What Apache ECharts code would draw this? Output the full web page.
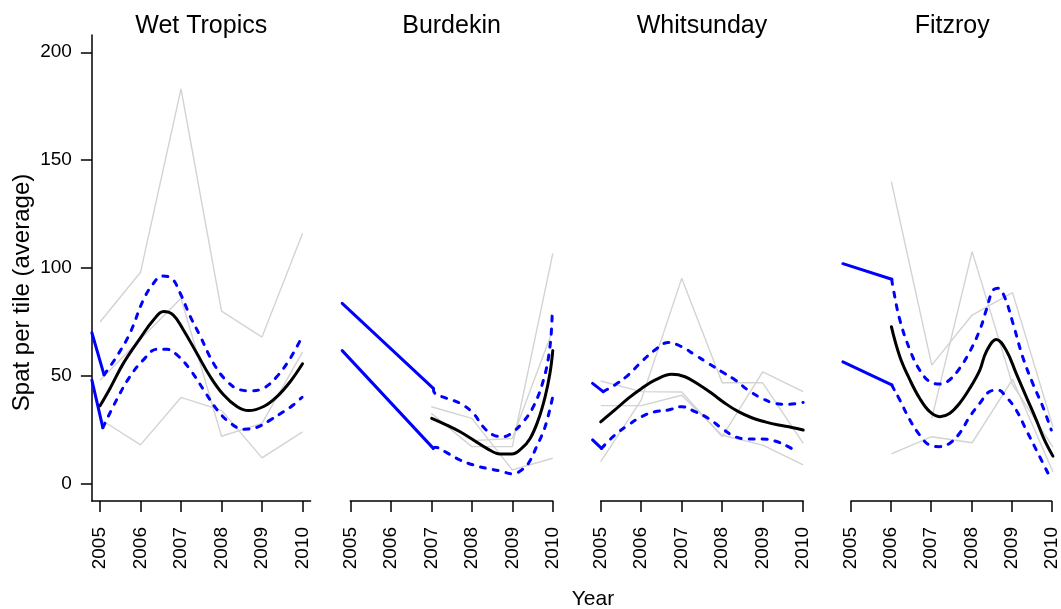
<!DOCTYPE html>
<html>
<head>
<meta charset="utf-8">
<script src="https://cdn.jsdelivr.net/npm/echarts@6/dist/echarts.min.js"></script>
<style>
html,body{margin:0;padding:0;background:#fff;}
#chart{width:1061px;height:609px;}
</style>
</head>
<body>
<div id="chart"></div>
<script>
// ---------- DATA ----------
const regions = ['Wet Tropics', 'Burdekin', 'Whitsunday', 'Fitzroy'];
const years = [2005, 2006, 2007, 2008, 2009, 2010];
const yearLabels = ['2005', '2006', '2007', '2008', '2009', '2010'];
const yTicks = [0, 50, 100, 150, 200];

// raw site lines (grey), one value per year
const wetGrey = [
  [75, 98, 183, 80, 68, 116],
  [48, 67, 86, 22, 28, 61],
  [30, 18, 40, 34, 12, 24]
];
const burGrey = [
  [null, null, 35.7, 30.3, 6.4, 11.8],
  [null, null, 32.6, 17.2, 17.2, 106.8],
  [null, null, null, 20, 21, 71.3]
];
const whiGrey = [
  [10.2, 38.8, 95.2, 46.8, 46.8, 18.7],
  [47.6, 42.7, 42.5, 21.8, 51.9, 42.7],
  [36.2, 36.2, 41, 22.5, 17.9, 8.7]
];
const fitGrey = [
  [null, 140, 55, 78.2, 88.6, 26.4],
  [null, null, 30.3, 107.6, 46, 17],
  [null, 13.8, 21.8, 19, 48.4, 5.6]
];

// smoothed mean (black), [year, value]
const wetMean = [[2005.0,36.1],[2005.25,44.3],[2005.58,55.9],[2005.99,67.4],[2006.32,75.9],[2006.57,79.8],[2006.81,78.2],[2007.06,71.3],[2007.39,60.5],[2007.72,49.7],[2008.05,41.2],[2008.38,35.8],[2008.67,33.9],[2009.04,35.8],[2009.37,40.4],[2009.70,47.4],[2010.0,55.6]];
const burMean = [[2007.01,30.3],[2007.38,27.2],[2007.71,24.1],[2008.04,20.3],[2008.37,16.4],[2008.70,13.8],[2008.99,13.8],[2009.23,16.4],[2009.44,21.0],[2009.64,29.5],[2009.81,40.3],[2009.93,51.2],[2010.0,61.7]];
const whiMean = [[2005.0,28.7],[2005.35,34.2],[2005.68,39.6],[2006.01,44.2],[2006.35,48.1],[2006.75,50.7],[2007.08,49.6],[2007.41,46.1],[2007.74,41.9],[2008.07,37.3],[2008.40,33.4],[2008.73,30.6],[2009.06,28.7],[2009.39,27.2],[2009.72,26.1],[2010.0,24.9]];
const fitMean = [[2006.0,72.8],[2006.21,58.9],[2006.46,48.1],[2006.70,39.6],[2006.95,33.4],[2007.20,31.1],[2007.44,32.6],[2007.69,37.3],[2007.94,44.2],[2008.19,52.7],[2008.35,61.2],[2008.60,66.9],[2008.84,62.0],[2009.09,51.2],[2009.34,40.3],[2009.59,29.5],[2009.79,20.3],[2010.0,12.8]];

// confidence band (blue dashed), [year, value]
const wetUpper = [[2005.10,50.5],[2005.41,58.9],[2005.74,69.8],[2006.07,85.2],[2006.32,92.9],[2006.53,96.3],[2006.77,95.2],[2006.98,88.3],[2007.23,77.5],[2007.48,68.2],[2007.80,55.9],[2008.14,47.4],[2008.47,43.5],[2008.71,43.1],[2009.04,44.3],[2009.37,49.7],[2009.70,58.2],[2009.95,66.7]];
const wetLower = [[2005.07,26.0],[2005.41,38.9],[2005.74,49.7],[2006.07,57.4],[2006.40,62.3],[2006.65,62.3],[2006.90,59.7],[2007.23,52.8],[2007.56,43.5],[2007.89,34.3],[2008.22,28.1],[2008.55,25.3],[2008.88,26.2],[2009.21,29.6],[2009.54,33.5],[2009.78,36.6],[2009.99,40.1]];
const burUpper = [[2007.05,44.2],[2007.09,41.9],[2007.38,39.6],[2007.71,37.3],[2008.04,32.6],[2008.28,26.4],[2008.53,22.6],[2008.78,21.8],[2009.02,24.1],[2009.27,28.7],[2009.52,35.7],[2009.77,48.1],[2009.93,63.5],[2009.99,81.3]];
const burLower = [[2007.05,16.4],[2007.09,16.9],[2007.38,14.4],[2007.71,11.0],[2008.04,8.7],[2008.37,7.1],[2008.69,6.0],[2009.02,4.5],[2009.23,6.4],[2009.40,9.5],[2009.60,17.2],[2009.81,26.4],[2009.99,39.6]];
const whiUpper = [[2005.06,42.7],[2005.35,45.8],[2005.68,50.4],[2006.01,56.6],[2006.34,62.0],[2006.67,65.5],[2007.00,63.5],[2007.33,59.7],[2007.66,55.8],[2007.99,51.9],[2008.32,48.1],[2008.64,43.4],[2008.98,39.6],[2009.30,37.3],[2009.63,36.8],[2010.0,37.7]];
const whiLower = [[2005.02,16.4],[2005.35,22.6],[2005.68,27.2],[2006.01,31.1],[2006.34,33.4],[2006.67,34.2],[2007.00,35.7],[2007.33,33.4],[2007.66,30.3],[2007.99,25.7],[2008.32,21.8],[2008.64,20.7],[2008.98,20.7],[2009.30,19.8],[2009.63,17.2],[2009.84,14.8]];
const fitUpper = [[2006.01,94.8],[2006.03,92.1],[2006.21,75.9],[2006.46,62.0],[2006.70,52.7],[2006.95,47.3],[2007.20,46.2],[2007.44,48.1],[2007.69,53.5],[2007.94,61.2],[2008.19,71.3],[2008.35,80.5],[2008.51,89.5],[2008.64,90.6],[2008.80,86.7],[2009.01,74.4],[2009.25,58.9],[2009.50,46.5],[2009.75,35.7],[2009.96,24.9]];
const fitLower = [[2006.01,45.8],[2006.03,45.0],[2006.21,38.8],[2006.46,29.5],[2006.70,22.6],[2006.95,17.9],[2007.20,17.2],[2007.44,18.7],[2007.69,23.4],[2007.94,31.1],[2008.19,37.3],[2008.43,42.7],[2008.64,43.4],[2008.84,40.3],[2009.09,34.2],[2009.34,24.9],[2009.59,15.6],[2009.88,4.8]];

// extrapolated band (blue solid), [year, value]
const wetUpperExt = [[2004.8,70.0],[2005.10,50.5]];
const wetLowerExt = [[2004.8,48.0],[2005.07,26.0]];
const burUpperExt = [[2004.8,83.6],[2007.05,44.2]];
const burLowerExt = [[2004.8,61.7],[2007.05,16.4]];
const whiUpperExt = [[2004.8,46.5],[2005.06,42.7]];
const whiLowerExt = [[2004.8,20.3],[2005.02,16.4]];
const fitUpperExt = [[2004.8,102.0],[2006.01,94.8]];
const fitLowerExt = [[2004.8,56.5],[2006.01,45.8]];

// ---------- BUILD ----------
const panels = [
  {grey: wetGrey, mean: wetMean, upper: wetUpper, lower: wetLower, upperExt: wetUpperExt, lowerExt: wetLowerExt},
  {grey: burGrey, mean: burMean, upper: burUpper, lower: burLower, upperExt: burUpperExt, lowerExt: burLowerExt},
  {grey: whiGrey, mean: whiMean, upper: whiUpper, lower: whiLower, upperExt: whiUpperExt, lowerExt: whiLowerExt},
  {grey: fitGrey, mean: fitMean, upper: fitUpper, lower: fitLower, upperExt: fitUpperExt, lowerExt: fitLowerExt}
];

const FONT = "'Liberation Sans', Arial, Helvetica, sans-serif";
const X2005 = [100, 350.3, 600.7, 851];
const PPY = 40.5;          // pixels per year
const TOP = 35, H = 466;   // plot region
const XMIN = 2004.8, XMAX = 2010.2, YMIN = -8, YMAX = 208;

const grids = [], xAxes = [], yAxes = [], series = [], graphics = [];

panels.forEach((p, i) => {
  grids.push({left: X2005[i] - 0.2 * PPY, top: TOP, width: 5.4 * PPY, height: H});
});
panels.forEach((p, i) => {
  grids.push({left: X2005[i], top: TOP, width: 5 * PPY, height: H});
});
const y0px = TOP + H * (YMAX - 0) / (YMAX - YMIN);
const y200px = TOP + H * (YMAX - 200) / (YMAX - YMIN);
grids.push({left: X2005[0] - 0.2 * PPY, top: y200px, width: 5.4 * PPY, height: y0px - y200px});

const blackLine = {color: '#000', width: 1.5};

panels.forEach((p, i) => {
  xAxes.push({
    gridIndex: i, type: 'value', min: XMIN, max: XMAX, position: 'bottom',
    show: i === 0,
    axisLine: {show: true, onZero: false, lineStyle: blackLine},
    axisTick: {show: false}, axisLabel: {show: false}, splitLine: {show: false}
  });
  yAxes.push({
    gridIndex: i, type: 'value', min: YMIN, max: YMAX, position: 'left',
    show: i === 0,
    axisLine: {show: true, onZero: false, lineStyle: blackLine},
    axisTick: {show: false}, axisLabel: {show: false}, splitLine: {show: false}
  });
});
panels.forEach((p, i) => {
  xAxes.push({
    gridIndex: 4 + i, type: 'value', min: 2005, max: 2010, interval: 1,
    position: 'bottom',
    axisLine: {show: i > 0, onZero: false, lineStyle: blackLine},
    axisTick: {show: true, length: 11, inside: false, lineStyle: blackLine},
    axisLabel: {
      show: true, rotate: 90, margin: 26, fontSize: 19, color: '#000', fontFamily: FONT,
      showMinLabel: true, showMaxLabel: true,
      padding: [9, 0, 0, 0],
      formatter: v => yearLabels[Math.round(v - years[0])]
    },
    splitLine: {show: false}
  });
  yAxes.push({
    gridIndex: 4 + i, type: 'value', min: YMIN, max: YMAX, show: false,
    axisLine: {onZero: false},
    splitLine: {show: false}
  });
});
xAxes.push({gridIndex: 8, type: 'value', min: XMIN, max: XMAX, show: false, axisLine: {onZero: false}, splitLine: {show: false}});
yAxes.push({
  gridIndex: 8, type: 'value', min: yTicks[0], max: yTicks[yTicks.length - 1],
  interval: yTicks[1] - yTicks[0], position: 'left',
  axisLine: {show: false, onZero: false},
  axisTick: {show: true, length: 11, inside: false, lineStyle: blackLine},
  axisLabel: {show: true, margin: 20, fontSize: 19, color: '#000', fontFamily: FONT,
    padding: [5, 0, 0, 0], showMinLabel: true, showMaxLabel: true},
  splitLine: {show: false}
});

const lineBase = {type: 'line', showSymbol: false, symbol: 'none', silent: true, animation: false};

panels.forEach((p, i) => {
  p.grey.forEach((vals, k) => {
    const d = [];
    years.forEach((yr, j) => { if (vals[j] !== null) d.push([yr, vals[j]]); });
    series.push(Object.assign({}, lineBase, {
      name: regions[i] + ' site ' + (k + 1), xAxisIndex: i, yAxisIndex: i, z: 1,
      data: d, lineStyle: {color: '#d3d3d3', width: 1.4}
    }));
  });
  [p.upperExt, p.lowerExt].forEach(d => {
    series.push(Object.assign({}, lineBase, {
      xAxisIndex: i, yAxisIndex: i, z: 3, data: d,
      lineStyle: {color: '#0000ff', width: 3, cap: 'round', join: 'round'}
    }));
  });
  [p.upper, p.lower].forEach(d => {
    series.push(Object.assign({}, lineBase, {
      xAxisIndex: i, yAxisIndex: i, z: 3, data: d, smooth: 0.4,
      lineStyle: {color: '#0000ff', width: 3, type: [5, 8], cap: 'round', join: 'round'}
    }));
  });
  series.push(Object.assign({}, lineBase, {
    xAxisIndex: i, yAxisIndex: i, z: 4, data: p.mean, smooth: 0.4,
    lineStyle: {color: '#000', width: 3, cap: 'round', join: 'round'}
  }));

  graphics.push({
    type: 'text', x: X2005[i] + 2.5 * PPY, y: 26,
    style: {text: regions[i], fontSize: 25, fontFamily: FONT, fill: '#000', align: 'center', verticalAlign: 'middle'}
  });
});

graphics.push({
  type: 'text', x: 22, y: 292.5, rotation: Math.PI / 2,
  style: {text: 'Spat per tile (average)', fontSize: 24, fontFamily: FONT, fill: '#000', align: 'center', verticalAlign: 'middle'}
});
graphics.push({
  type: 'text', x: 593, y: 599,
  style: {text: 'Year', fontSize: 21, fontFamily: FONT, fill: '#000', align: 'center', verticalAlign: 'middle'}
});

const chart = echarts.init(document.getElementById('chart'), null, {renderer: 'canvas'});
chart.setOption({
  animation: false,
  backgroundColor: '#fff',
  grid: grids,
  xAxis: xAxes,
  yAxis: yAxes,
  series: series,
  graphic: graphics
});
</script>
</body>
</html>
